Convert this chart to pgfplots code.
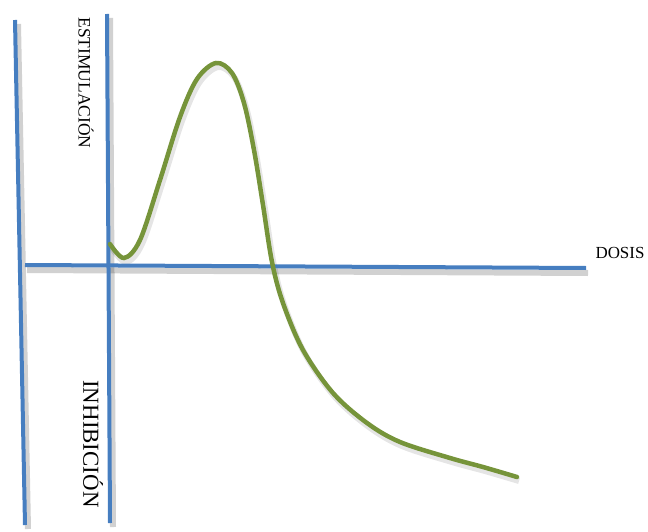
\documentclass[border=0pt]{standalone}
\usepackage{pgfplots}
\pgfplotsset{compat=1.18}
\usepackage{fontspec}
\setmainfont{Liberation Serif}
\definecolor{lblue}{RGB}{70,126,192}
\definecolor{lgreen}{RGB}{118,148,58}
\pgfplotstableread{
x y
110 244
124 258
140 240
160 180
180 117
197 79
216 63
232 73
244 103
254 150
263 205
272 262
283 303
303 350
333 393
367 423
400 442
450 458
483 467
517 477
}\curve
\begin{document}
\begin{tikzpicture}[x=1bp,y=1bp]
\begin{axis}[
  scale only axis, width=648bp, height=531bp,
  xmin=0, xmax=648, ymin=0, ymax=531, y dir=reverse,
  hide axis, clip=false,
]
\path[draw=none] (rel axis cs:0,0) rectangle (rel axis cs:1,1);
% shadows
\addplot[draw=black, opacity=0.18, line width=6bp, shift={(3bp,-4bp)}] coordinates {(15,20) (25,525)};
\addplot[draw=black, opacity=0.18, line width=6bp, shift={(3bp,-4bp)}] coordinates {(107,14) (110,523)};
\addplot[draw=black, opacity=0.18, line width=6bp, shift={(2bp,-5bp)}] coordinates {(25,265) (586,268)};
\addplot[draw=black, opacity=0.10, line width=6bp, smooth, tension=0.55, shift={(2bp,-4bp)}] table {\curve};
% axes lines
\addplot[draw=lblue, line width=4bp] coordinates {(15,20) (25,525)};
\addplot[draw=lblue, line width=4bp] coordinates {(107,14) (110,523)};
\addplot[draw=lblue, line width=4bp] coordinates {(25,265) (586,268)};
% curve
\addplot[draw=lgreen, line width=4.5bp, smooth, tension=0.55, line cap=round] table {\curve};
\node[rotate=-90, font=\fontsize{17.5}{17.5}\selectfont] at (axis cs:86,83) {ESTIMULACIÓN};
\node[rotate=-90, font=\fontsize{23}{23}\selectfont] at (axis cs:93,444) {INHIBICIÓN};
\node[font=\fontsize{17}{17}\selectfont] at (axis cs:620,253) {DOSIS};
\end{axis}
\end{tikzpicture}
\end{document}
